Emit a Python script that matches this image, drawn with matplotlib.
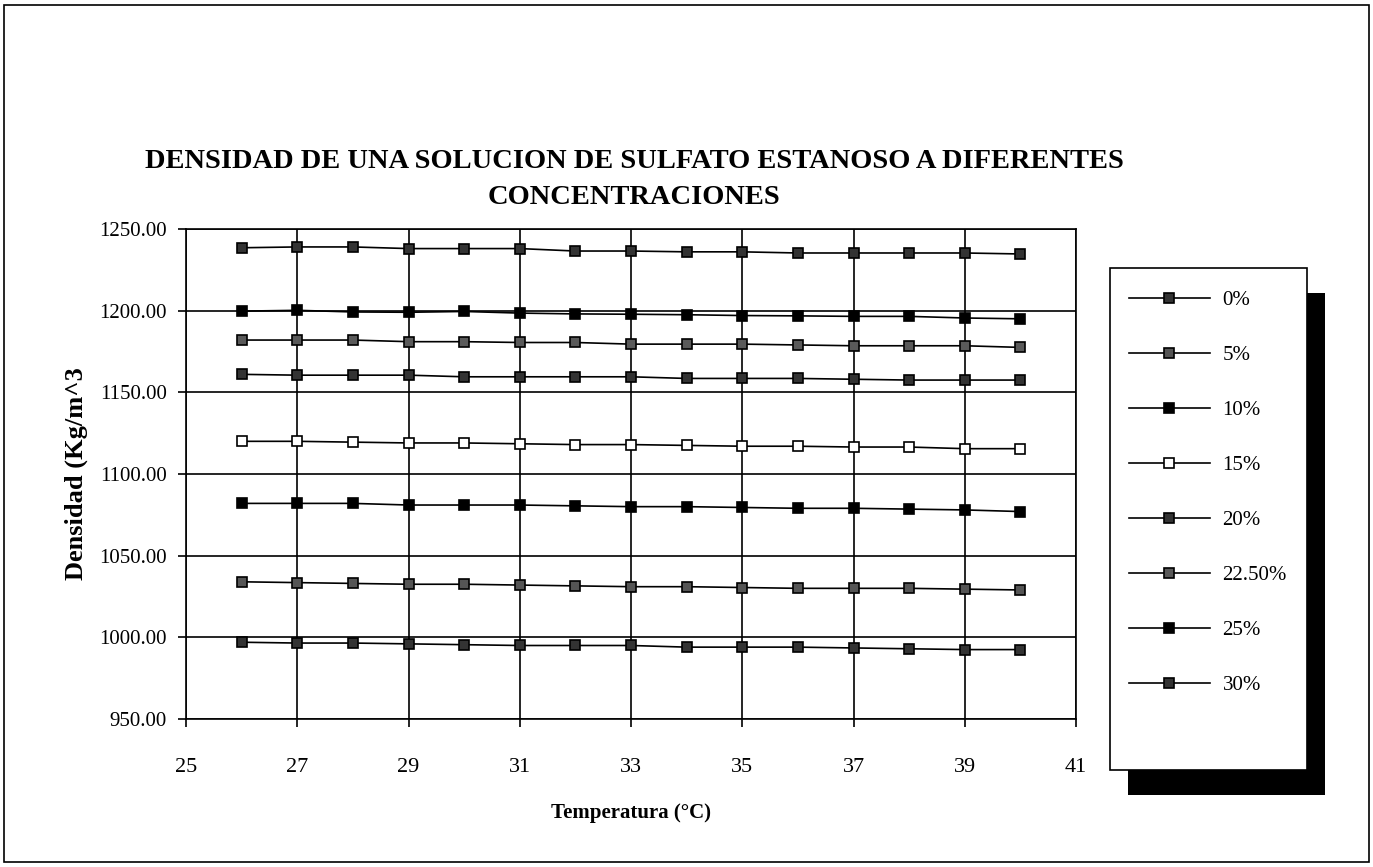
import numpy as np
import matplotlib.pyplot as plt
from matplotlib.patches import Rectangle
from matplotlib.lines import Line2D

# Densidad de sulfato estanoso vs temperatura.
temperatura = [26, 27, 28, 29, 30, 31, 32, 33, 34, 35, 36, 37, 38, 39, 40]

etiquetas = ['0%', '5%', '10%', '15%', '20%', '22.50%', '25%', '30%']

dens_0 = [997, 996.5, 996.5, 996, 995.5, 995, 995, 995, 994, 994, 994, 993.5, 993, 992.5, 992.5]
dens_5 = [1034, 1033.5, 1033, 1032.5, 1032.5, 1032, 1031.5, 1031, 1031, 1030.5, 1030, 1030, 1030, 1029.5, 1029]
dens_10 = [1082, 1082, 1082, 1081, 1081, 1081, 1080.5, 1080, 1080, 1079.5, 1079, 1079, 1078.5, 1078, 1077]
dens_15 = [1120, 1120, 1119.5, 1119, 1119, 1118.5, 1118, 1118, 1117.5, 1117, 1117, 1116.5, 1116.5, 1115.5, 1115.5]
dens_20 = [1161, 1160.5, 1160.5, 1160.5, 1159.5, 1159.5, 1159.5, 1159.5, 1158.5, 1158.5, 1158.5, 1158, 1157.5, 1157.5, 1157.5]
dens_225 = [1182, 1182, 1182, 1181, 1181, 1180.5, 1180.5, 1179.5, 1179.5, 1179.5, 1179, 1178.5, 1178.5, 1178.5, 1177.5]
dens_25 = [1199.7, 1200.2, 1199.2, 1199, 1199.5, 1198.5, 1198, 1197.8, 1197.5, 1197, 1196.8, 1196.5, 1196.5, 1195.5, 1195]
dens_30 = [1238.5, 1239, 1239, 1238, 1238, 1238, 1236.5, 1236.5, 1236, 1236, 1235.3, 1235.3, 1235.3, 1235.3, 1234.7]

series = [dens_0, dens_5, dens_10, dens_15, dens_20, dens_225, dens_25, dens_30]
# relleno del marcador: negro, blanco o "punteado" (gris oscuro)
rellenos = ['#333333', '#555555', 'black', 'white', '#333333', '#5a5a5a', 'black', '#333333']

plt.rcParams['font.family'] = ['Liberation Serif', 'DejaVu Serif']

fig = plt.figure(figsize=(13.73, 8.67), dpi=100)
ax = fig.add_axes([0.1355, 0.1707, 0.6482, 0.5652])

manejadores = []
for datos, relleno, etiqueta in zip(series, rellenos, etiquetas):
    ax.plot(temperatura, datos, color='black', lw=1.2, marker='s', markersize=7,
            markerfacecolor=relleno, markeredgecolor='black', markeredgewidth=1.2, zorder=3)
    manejadores.append(Line2D([0], [0], color='black', lw=1.2, marker='s', markersize=7,
                              markerfacecolor=relleno, markeredgecolor='black', markeredgewidth=1.2))

ax.set_xlim(25, 41)
ax.set_ylim(950, 1250)
ax.set_xticks(np.arange(25, 42, 2))
ax.set_yticks(np.arange(950, 1251, 50))
ax.set_yticklabels(['{:.2f}'.format(v) for v in np.arange(950, 1251, 50)])
ax.grid(True, color='black', lw=1.2)
ax.set_axisbelow(True)
for s in ax.spines.values():
    s.set_color('black')
    s.set_linewidth(1.2)
ax.tick_params(labelsize=15, length=6, width=1.2, colors='black')
ax.tick_params(axis='y', pad=8)
ax.tick_params(axis='x', labelsize=16, pad=22)

ax.set_xlabel('Temperatura (°C)', fontsize=15, fontweight='bold', labelpad=19)
ax.set_ylabel('Densidad (Kg/m^3', fontsize=19, fontweight='bold', labelpad=8)

fig.text(0.462, 1 - 149 / 867, 'DENSIDAD DE UNA SOLUCION DE SULFATO ESTANOSO A DIFERENTES\nCONCENTRACIONES',
         ha='center', va='top', fontsize=20.5, fontweight='bold', linespacing=1.6)

# cuadro de leyenda con sombra negra, dibujado a mano
x0, y0 = 1110 / 1373, 1 - 770 / 867
ancho, alto = 197 / 1373, 502 / 867
dx, dy = 18 / 1373, 25 / 867
fig.add_artist(Rectangle((x0 + dx, y0 - dy), ancho, alto, transform=fig.transFigure,
                         facecolor='black', edgecolor='none', zorder=4))
fig.add_artist(Rectangle((x0, y0), ancho, alto, transform=fig.transFigure,
                         facecolor='white', edgecolor='black', lw=1.2, zorder=4.5))

leg = fig.legend(manejadores, etiquetas, loc='upper left', bbox_to_anchor=(x0, 1 - 272 / 867),
                 fontsize=15, frameon=False, handlelength=3.9, handletextpad=0.6,
                 borderpad=0.9, labelspacing=1.7, borderaxespad=0)
leg.set_zorder(5)

# marco exterior
fig.add_artist(Rectangle((0.003, 0.006), 0.994, 0.988, transform=fig.transFigure,
                         facecolor='none', edgecolor='black', lw=1.2))

plt.savefig('out.png', dpi=100)
